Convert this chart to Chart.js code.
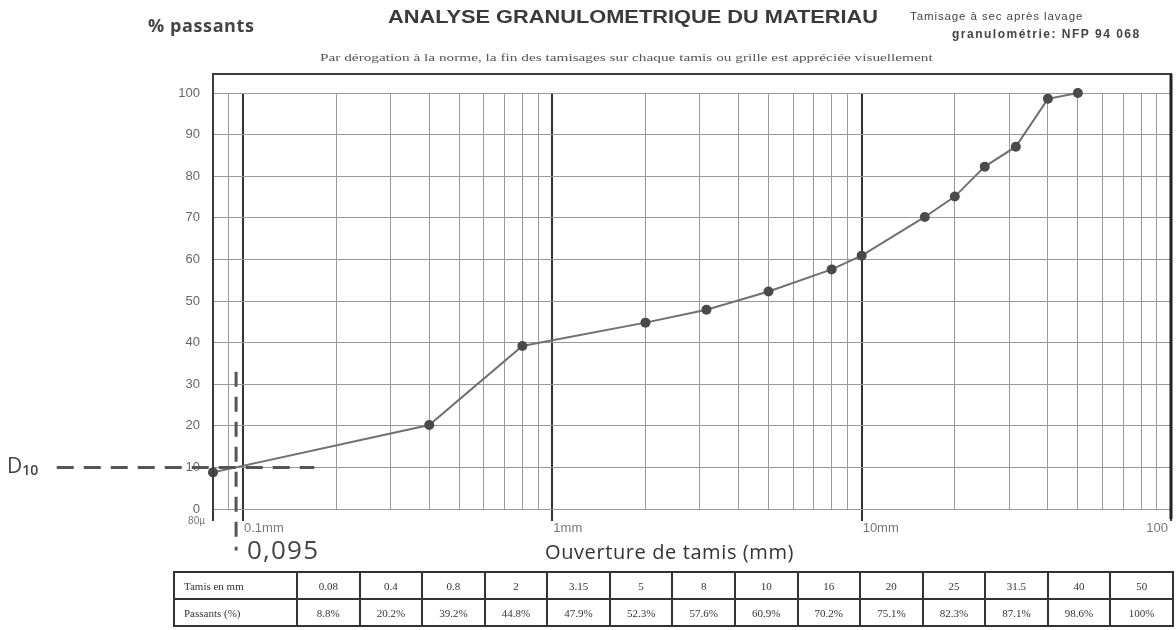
<!DOCTYPE html>
<html>
<head>
<meta charset="utf-8">
<script src="https://cdn.jsdelivr.net/npm/chart.js@4"></script>
<style>
    body { margin: 0; background: #fff; }
    #wrap { position: relative; width: 1176px; height: 630px; overflow: hidden; font-family: "Liberation Sans", Arial, sans-serif; }
    #c { position: absolute; left: 0; top: 0; }
    .txt { position: absolute; white-space: nowrap; color: #333; transform-origin: left center; }
    #title { left: 388px; top: 7px; font-size: 18px; font-weight: bold; color: #3a3a3a; transform: scaleX(1.21); }
    #method { left: 910px; top: 10px; font-size: 11.5px; color: #444; letter-spacing: 0.9px; }
    #norm { left: 952px; top: 27px; font-size: 12px; font-weight: bold; color: #444; letter-spacing: 1.5px; }
    #ylabel { left: 148px; top: 13px; font-size: 18px; font-weight: bold; color: #444; font-family: "Open Sans", sans-serif; letter-spacing: 0.6px; }
    #note { left: 320px; top: 51px; font-size: 11px; font-family: "Liberation Serif", serif; color: #555; transform: scaleX(1.39); }
    #d10 { left: 7px; top: 451px; font-size: 21px; font-family: "Open Sans", sans-serif; color: #444; }
    #d10 sub { font-size: 14px; font-weight: 600; vertical-align: -2px; }
    #dval { left: 247px; top: 531px; font-size: 26px; font-family: "Open Sans", sans-serif; color: #444; letter-spacing: 1.2px; }
    #xtitle { left: 545px; top: 538px; font-size: 20px; font-family: "Open Sans", sans-serif; color: #333; letter-spacing: 0.6px; }
    table { position: absolute; left: 173px; top: 571px; border-collapse: collapse; table-layout: fixed; width: 1001px; }
    td { border: 2px solid #333; height: 25px; font-family: "Liberation Serif", serif; font-size: 11px; color: #333; text-align: center; padding: 0; }
    td.head { text-align: left; padding-left: 9px; }
</style>
</head>
<body>
<div id="wrap">
    <canvas id="c" width="1176" height="630"></canvas>
    <div class="txt" id="title">ANALYSE GRANULOMETRIQUE DU MATERIAU</div>
    <div class="txt" id="method">Tamisage à sec après lavage</div>
    <div class="txt" id="norm">granulométrie: NFP 94 068</div>
    <div class="txt" id="ylabel">% passants</div>
    <div class="txt" id="note">Par dérogation à la norme, la fin des tamisages sur chaque tamis ou grille est appréciée visuellement</div>
    <div class="txt" id="d10">D<sub>10</sub></div>
    <div class="txt" id="dval">0,095</div>
    <div class="txt" id="xtitle">Ouverture de tamis (mm)</div>
    <table id="tbl">
        <colgroup id="cols"></colgroup>
        <tr id="rowSize"><td class="head">Tamis en mm</td></tr>
        <tr id="rowPct"><td class="head">Passants (%)</td></tr>
    </table>
</div>
<script>
// Sieve data
const sieveSizes = [0.08, 0.4, 0.8, 2, 3.15, 5, 8, 10, 16, 20, 25, 31.5, 40, 50];
const passingPct = [8.8, 20.2, 39.2, 44.8, 47.9, 52.3, 57.6, 60.9, 70.2, 75.1, 82.3, 87.1, 98.6, 100];
const sizeLabels = ['0.08', '0.4', '0.8', '2', '3.15', '5', '8', '10', '16', '20', '25', '31.5', '40', '50'];
const pctLabels = ['8.8%', '20.2%', '39.2%', '44.8%', '47.9%', '52.3%', '57.6%', '60.9%', '70.2%', '75.1%', '82.3%', '87.1%', '98.6%', '100%'];

// Log grid of the sieve paper
const xGridValues = [0.08, 0.09, 0.1, 0.2, 0.3, 0.4, 0.5, 0.6, 0.7, 0.8, 0.9,
    1, 2, 3, 4, 5, 6, 7, 8, 9, 10, 20, 30, 40, 50, 60, 70, 80, 90, 100];
const xMajorValues = [0.08, 0.1, 1, 10, 100];
const xTickLabels = ['80µ', '0.1mm', '1mm', '10mm', '100'];

// D10 reading (hand-drawn dashed guides)
const d10Size = 0.095;
const d10Pct = 10;
const d10GuideX = [0.025, 0.17];
const d10GuideY = [33, -10];

// Fill the table
const cols = document.getElementById('cols');
const firstCol = document.createElement('col');
firstCol.style.width = '123px';
cols.appendChild(firstCol);
sizeLabels.forEach((s, i) => {
    const col = document.createElement('col');
    cols.appendChild(col);
    const a = document.createElement('td');
    a.textContent = s;
    document.getElementById('rowSize').appendChild(a);
    const b = document.createElement('td');
    b.textContent = pctLabels[i];
    document.getElementById('rowPct').appendChild(b);
});

function isMajor(v) {
    return xMajorValues.some(m => Math.abs(m - v) < 1e-9);
}

// Frame, top border and custom x labels
const framePlugin = {
    id: 'frame',
    afterDraw(chart) {
        const { ctx, chartArea: a, scales } = chart;
        const x = scales.x;
        const top = a.top - 19;
        ctx.save();
        ctx.strokeStyle = '#3c3c3c';
        ctx.lineWidth = 2;
        ctx.beginPath();
        ctx.moveTo(a.left - 1, top);
        ctx.lineTo(a.right + 1, top);
        ctx.moveTo(a.left, top);
        ctx.lineTo(a.left, a.bottom + 3);
        ctx.stroke();
        ctx.lineWidth = 3;
        ctx.strokeStyle = '#222';
        ctx.beginPath();
        ctx.moveTo(a.right, top);
        ctx.lineTo(a.right, a.bottom + 10);
        ctx.stroke();

        ctx.fillStyle = '#777';
        ctx.textBaseline = 'middle';
        xMajorValues.forEach((v, i) => {
            const px = x.getPixelForValue(v);
            if (i === 0) {
                ctx.font = '10px "Liberation Sans", Arial';
                ctx.textAlign = 'right';
                ctx.fillText(xTickLabels[i], px - 8, a.bottom + 12);
            } else if (i === xMajorValues.length - 1) {
                ctx.font = '13px "Liberation Sans", Arial';
                ctx.textAlign = 'right';
                ctx.fillText(xTickLabels[i], px - 3, a.bottom + 19);
            } else {
                ctx.font = '13px "Liberation Sans", Arial';
                ctx.textAlign = 'left';
                ctx.fillText(xTickLabels[i], px + 1, a.bottom + 19);
            }
        });
        ctx.restore();
    }
};

const ctx = document.getElementById('c');
new Chart(ctx, {
    type: 'scatter',
    data: {
        datasets: [
            {
                data: [{ x: d10GuideX[0], y: d10Pct }, { x: d10GuideX[1], y: d10Pct }],
                showLine: true,
                borderColor: '#555',
                borderWidth: 3,
                borderDash: [17, 10],
                pointRadius: 0,
                clip: false
            },
            {
                data: [{ x: d10Size, y: d10GuideY[0] }, { x: d10Size, y: d10GuideY[1] }],
                showLine: true,
                borderColor: '#555',
                borderWidth: 3,
                borderDash: [15, 10],
                pointRadius: 0,
                clip: false
            },
            {
                data: sieveSizes.map((s, i) => ({ x: s, y: passingPct[i] })),
                showLine: true,
                borderColor: '#707070',
                borderWidth: 2,
                pointRadius: 5,
                pointBackgroundColor: '#4a4a4a',
                pointBorderColor: '#4a4a4a',
                pointBorderWidth: 0,
                clip: false
            }
        ]
    },
    options: {
        responsive: false,
        animation: false,
        layout: { padding: { left: 153, top: 93, right: 3, bottom: 101 } },
        plugins: {
            legend: { display: false },
            tooltip: { enabled: false }
        },
        scales: {
            x: {
                type: 'logarithmic',
                min: 0.08,
                max: 100,
                afterBuildTicks: (scale) => {
                    scale.ticks = xGridValues.map(v => ({ value: v, major: isMajor(v) }));
                },
                afterFit: (scale) => { scale.height = 20; },
                ticks: { display: false },
                border: { display: false },
                grid: {
                    color: (c) => isMajor(c.tick.value) ? '#333' : '#999',
                    lineWidth: (c) => isMajor(c.tick.value) ? 2 : 1,
                    tickColor: (c) => isMajor(c.tick.value) ? '#333' : 'rgba(0,0,0,0)',
                    tickLength: 12,
                    drawTicks: true
                }
            },
            y: {
                min: 0,
                max: 100,
                afterFit: (scale) => { scale.width = 60; },
                ticks: {
                    stepSize: 10,
                    padding: 13,
                    color: '#666',
                    font: { family: '"Liberation Sans", Arial', size: 13 }
                },
                border: { display: false },
                grid: {
                    color: '#999',
                    lineWidth: 1,
                    drawTicks: false
                }
            }
        }
    },
    plugins: [framePlugin]
});
</script>
</body>
</html>
